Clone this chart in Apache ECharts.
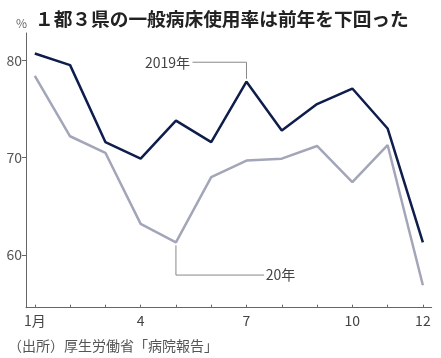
<!DOCTYPE html>
<html><head><meta charset="utf-8">
<script src="https://cdn.jsdelivr.net/npm/echarts@6/dist/echarts.min.js"></script>
<style>html,body{margin:0;padding:0;background:#fff}#c{width:441px;height:358px}</style>
</head><body><div id="c"></div>
<script>
const months = [1,2,3,4,5,6,7,8,9,10,11,12];
const xLabelMonths = [1,4,7,10,12];
const yTicks = [60,70,80];
const y2019 = [80.7,79.5,71.6,69.9,73.8,71.6,77.8,72.8,75.5,77.1,73.0,61.3];
const y2020 = [78.4,72.2,70.5,63.2,61.3,68.0,69.7,69.9,71.2,67.5,71.3,56.9];
const leader2019 = [[5.47,79.8],[7,79.8],[7,78.1]];
const leader2020 = [[5,61.0],[5,57.95],[7.5,57.95]];
const title = '１都３県の一般病床使用率は前年を下回った';
const source = '（出所）厚生労働省「病院報告」';

const chart = echarts.init(document.getElementById('c'), null, {renderer:'canvas'});
const font = '"Noto Sans CJK JP", "Noto Sans", sans-serif';
const lbl = (text,pos,off)=>({show:true,position:pos,distance:0,formatter:text,color:'#444',fontSize:14,fontFamily:font,offset:off});
chart.setOption({
  animation:false,
  backgroundColor:'#fff',
  title:[
    {text:title,left:30,top:5,textStyle:{fontSize:18.7,fontWeight:'bold',color:'#222',fontFamily:font}},
    {text:'%',left:11,top:12,textStyle:{fontSize:12,fontWeight:'normal',color:'#666',fontFamily:font}},
    {text:source,left:3,top:334,textStyle:{fontSize:14,fontWeight:'normal',color:'#555',fontFamily:font}}
  ],
  grid:{left:26,right:9.3,top:33,bottom:50.3,containLabel:false},
  xAxis:{type:'value',min:0.75,max:12.25,
    axisLine:{show:true,lineStyle:{color:'#666',width:1}},
    axisTick:{show:true,inside:true,length:3,customValues:months,lineStyle:{color:'#666'}},
    axisLabel:{customValues:xLabelMonths,color:'#444',fontSize:14,fontFamily:font,margin:6,
      formatter:v=>v===1?'1月':String(v)},
    splitLine:{show:false}},
  yAxis:{type:'value',min:54.6,max:82.8,
    axisLine:{show:true,lineStyle:{color:'#666',width:1}},
    axisTick:{show:true,length:4,customValues:yTicks,lineStyle:{color:'#666'}},
    axisLabel:{customValues:yTicks,color:'#555',fontSize:14,fontFamily:font,margin:4},
    splitLine:{show:false}},
  series:[
    {type:'line',data:leader2019,symbol:'none',silent:true,
      lineStyle:{color:'#888',width:1},z:1,
      markPoint:{symbol:'circle',symbolSize:1,itemStyle:{color:'rgba(0,0,0,0)'},
        data:[{coord:leader2019[0],label:lbl('2019年','left',[-2,0])}]}},
    {type:'line',data:leader2020,symbol:'none',silent:true,
      lineStyle:{color:'#888',width:1},z:1,
      markPoint:{symbol:'circle',symbolSize:1,itemStyle:{color:'rgba(0,0,0,0)'},
        data:[{coord:leader2020[2],label:lbl('20年','right',[1,0])}]}},
    {type:'line',data:months.map((m,i)=>[m,y2020[i]]),symbol:'none',
      lineStyle:{color:'#a3a6b8',width:2.5},z:2},
    {type:'line',data:months.map((m,i)=>[m,y2019[i]]),symbol:'none',
      lineStyle:{color:'#0e1d4b',width:2.5},z:3}
  ]
});
</script></body></html>
